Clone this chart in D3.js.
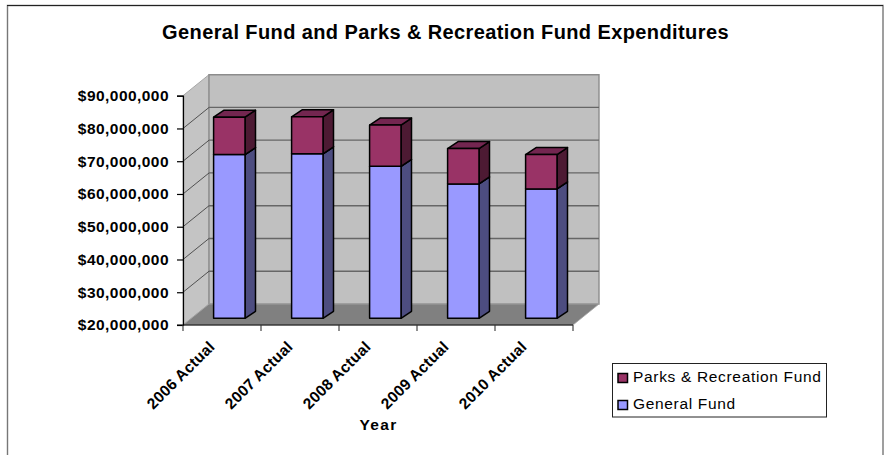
<!DOCTYPE html>
<html><head><meta charset="utf-8">
<script src="https://cdn.jsdelivr.net/npm/d3@7/dist/d3.min.js"></script>
<style>html,body{margin:0;padding:0;background:#fff}svg{display:block}text{font-family:"Liberation Sans",Arial,sans-serif;fill:#000}</style>
</head><body><svg width="885" height="455"></svg>
<script>
const categories=["2006 Actual","2007 Actual","2008 Actual","2009 Actual","2010 Actual"];
const generalFund=[70000000,70200000,66400000,61000000,59500000];
const parksFund=[11400000,11300000,12600000,10800000,10500000];
const tickValues=[20,30,40,50,60,70,80,90].map(d=>d*1000000);
const seriesNames=["Parks & Recreation Fund","General Fund"];
const W=885,H=455;
const svg=d3.select("svg");
const L=183,R=573,B=325,T=95.7,DX=26,DY=-21;
const x=d3.scaleBand().domain(categories).range([L,R]);
const y=d3.scaleLinear().domain([20000000,90000000]).range([B,T]);
const pts=a=>a.map(p=>p.join(",")).join(" ");
// frame
svg.append("path").attr("d",`M7.5,455V5.5H883V455`).attr("fill","none").attr("stroke","#777").attr("stroke-width",1.4);
svg.append("line").attr("x1",7).attr("x2",883).attr("y1",5.5).attr("y2",5.5).attr("stroke","#222").attr("stroke-width",1);
// title
svg.append("text").attr("x",445.5).attr("y",39).attr("text-anchor","middle").attr("font-weight","bold").attr("font-size",20).attr("letter-spacing",0.4).text("General Fund and Parks & Recreation Fund Expenditures");
// walls
svg.append("polygon").attr("points",pts([[L,T],[L+DX,T+DY],[L+DX,B+DY],[L,B]])).attr("fill","#c4c4c4").attr("stroke","#a6a6a6").attr("stroke-width",1);
svg.append("polygon").attr("points",pts([[L+DX,T+DY],[R+DX,T+DY],[R+DX,B+DY],[L+DX,B+DY]])).attr("fill","#c0c0c0").attr("stroke","#8c8c8c").attr("stroke-width",1.4);
svg.append("polygon").attr("points",pts([[L,B],[R,B],[R+DX,B+DY],[L+DX,B+DY]])).attr("fill","#808080").attr("stroke","#a6a6a6").attr("stroke-width",0.8);
// gridlines
tickValues.slice(1,-1).forEach(v=>{
  svg.append("line").attr("x1",L).attr("y1",y(v)).attr("x2",L+DX).attr("y2",y(v)+DY).attr("stroke","#333").attr("stroke-width",0.8);
  svg.append("line").attr("x1",L+DX).attr("y1",y(v)+DY).attr("x2",R+DX).attr("y2",y(v)+DY).attr("stroke","#666").attr("stroke-width",1.3);
});
// axes
const ya=svg.append("g").attr("transform",`translate(${L},0)`).call(d3.axisLeft(y).tickValues(tickValues).tickSize(6).tickPadding(8).tickFormat(d3.format("$,.0f")));
ya.select(".domain").attr("stroke","#000").attr("stroke-width",1.2);
ya.selectAll("line").attr("stroke","#000").attr("stroke-width",1.2);
ya.selectAll("text").attr("font-size",15.5).attr("font-weight","bold").attr("letter-spacing",0.45).attr("font-family",'"Liberation Sans",Arial,sans-serif');
const xa=svg.append("g").attr("transform",`translate(0,${B})`);
xa.append("line").attr("x1",L-6).attr("x2",R).attr("y1",0).attr("y2",0).attr("stroke","#000").attr("stroke-width",1.2);
const xEdges=categories.map(c=>x(c)).concat([R]);
xa.selectAll("line.t").data(xEdges).join("line").attr("class","t").attr("x1",d=>d).attr("x2",d=>d).attr("y1",0).attr("y2",6).attr("stroke","#333").attr("stroke-width",1.1);
xa.selectAll("text").data(categories).join("text")
  .attr("transform",c=>`translate(${x(c)+x.bandwidth()/2-14},15) rotate(-45)`)
  .attr("text-anchor","end").attr("dy","0.7em").attr("font-size",15.5).attr("font-weight","bold").attr("letter-spacing",0.25).text(c=>c);
svg.append("text").attr("x",378.5).attr("y",430).attr("text-anchor","middle").attr("font-size",15.5).attr("font-weight","bold").attr("letter-spacing",1.3).text("Year");
// bars
const BX=8.5,BY=-6.7,dx=10.5,dy=-7,bw=31.4;
const seg=(i,lo,hi,f,side,top)=>{
  const x0=x(categories[i])+x.bandwidth()/2-bw/2+BX-1.2,x1=x0+bw;
  const yl=y(lo)+BY,yh=y(hi)+BY;
  const g=svg.append("g").attr("stroke","#000").attr("stroke-width",1.5).attr("stroke-linejoin","round");
  g.append("polygon").attr("points",pts([[x1,yl],[x1+dx,yl+dy],[x1+dx,yh+dy],[x1,yh]])).attr("fill",side);
  g.append("polygon").attr("points",pts([[x0,yh],[x0+dx,yh+dy],[x1+dx,yh+dy],[x1,yh]])).attr("fill",top);
  g.append("rect").attr("x",x0).attr("y",yh).attr("width",bw).attr("height",yl-yh).attr("fill",f);
};
categories.forEach((c,i)=>{
  const g=generalFund[i],p=parksFund[i];
  seg(i,20000000,g,"#9999ff","#4d4d80","#4d4d80");
  seg(i,g,g+p,"#993366","#4d1a33","#732650");
});
// legend
const lg=svg.append("g");
lg.append("rect").attr("x",612.5).attr("y",363.5).attr("width",214).attr("height",53.5).attr("fill","#fff").attr("stroke","#222").attr("stroke-width",1);
const legendColors=["#993366","#9999ff"];
seriesNames.forEach((n,i)=>{
  const yy=377.5+i*27;
  lg.append("rect").attr("x",618).attr("y",yy-4).attr("width",9.5).attr("height",9).attr("fill",legendColors[i]).attr("stroke","#000").attr("stroke-width",1.5);
  lg.append("text").attr("x",633).attr("y",yy+4).attr("font-size",15.5).attr("letter-spacing",0.67).attr("fill","#222").text(n);
});
</script></body></html>
